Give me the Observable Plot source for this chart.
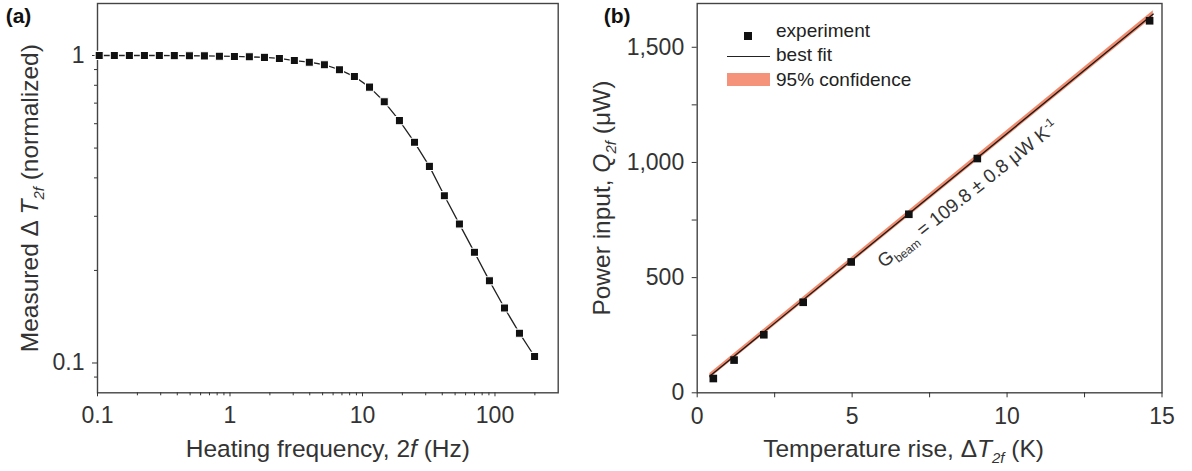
<!DOCTYPE html>
<html><head><meta charset="utf-8">
<script src="https://cdn.jsdelivr.net/npm/d3@7"></script>
<script src="https://cdn.jsdelivr.net/npm/@observablehq/plot@0.6"></script>
<style>
html,body{margin:0;padding:0;background:#fff;}
#wrap{position:relative;width:1192px;height:471px;overflow:hidden;font-family:"Liberation Sans",Arial,Helvetica,sans-serif;color:#333;}
#pa{position:absolute;left:0;top:0;}
#pb{position:absolute;left:566px;top:0;}
.lg{position:absolute;font-size:19px;line-height:19px;color:#222;white-space:nowrap;}
.sw{position:absolute;}
</style></head><body>
<div id="wrap">
  <div id="pa"></div>
  <div id="pb"></div>
  <div class="sw" style="left:744px;top:32px;width:8px;height:8px;background:#111;"></div>
  <div class="sw" style="left:727px;top:56px;width:43px;height:1.3px;background:#222;"></div>
  <div class="sw" style="left:727px;top:73px;width:43px;height:13px;background:#f5937a;"></div>
  <div class="lg" style="left:776px;top:21px;">experiment</div>
  <div class="lg" style="left:776px;top:45px;">best fit</div>
  <div class="lg" style="left:776px;top:70px;">95% confidence</div>
</div>
<script>
// ---------- Panel (a) data ----------
const freqHz = [0.103, 0.134, 0.174, 0.226, 0.293, 0.380, 0.494, 0.641, 0.832, 1.08,
                1.40, 1.82, 2.36, 3.06, 3.97, 5.16, 6.70, 8.69, 11.3, 14.6,
                19.0, 24.7, 32.0, 41.5, 53.9, 70.0, 90.8, 118, 153, 199];
const dTnorm = [1.000, 1.000, 1.000, 1.000, 1.000, 0.999, 0.998, 0.997, 0.995, 0.993,
                0.990, 0.986, 0.978, 0.963, 0.951, 0.933, 0.899, 0.854, 0.789, 0.707,
                0.614, 0.522, 0.436, 0.350, 0.283, 0.229, 0.185, 0.151, 0.125, 0.105];
const xTicksA = [0.1, 1, 10, 100];
const xTickLabelsA = ["0.1", "1", "10", "100"];
const xMinorA = [0.2,0.3,0.4,0.5,0.6,0.7,0.8,0.9, 2,3,4,5,6,7,8,9, 20,30,40,50,60,70,80,90, 200];
const yTicksA = [0.1, 1];
const yTickLabelsA = ["0.1", "1"];
const yMinorA = [0.09, 0.2,0.3,0.4,0.5,0.6,0.7,0.8,0.9];

// ---------- Panel (b) data ----------
const tempRiseK = [0.52, 1.19, 2.15, 3.42, 4.97, 6.83, 9.04, 14.6];
const powerUW   = [62, 142, 252, 393, 568, 775, 1017, 1615];
const fitT      = [0.41, 14.72];
const fitQ      = [73, 1644];
const confLow   = [62, 1630];
const confHigh  = [84, 1658];
const xTicksB = [0, 5, 10, 15];
const xTickLabelsB = ["0", "5", "10", "15"];
const xMinorB = [2.5, 7.5, 12.5];
const yTicksB = [0, 500, 1000, 1500];
const yTickLabelsB = ["0", "500", "1,000", "1,500"];
const yMinorB = [250, 750, 1250, 1750];
const annotation = [{T: 6.02, Q: 540, text: "Gbeam = 109.8 ± 0.8 μW K-1"}];

const FONT = '"Liberation Sans", Arial, Helvetica, sans-serif';

const titleYa = "Measured Δ T2f (normalized)";
const titleXa = "Heating frequency, 2f (Hz)";
const titleYb = "Power input, Q2f (μW)";
const titleXb = "Temperature rise, ΔT2f (K)";

function rich(svg, plain, parts) {
  d3.select(svg).selectAll("text").filter(function(){ return this.textContent === plain; }).each(function(){
    const t = d3.select(this);
    t.text(null);
    let shift = 0;
    parts.forEach(p => {
      const s = t.append("tspan").text(p.t);
      if (p.i) s.attr("font-style", "italic");
      if (p.fs) s.attr("font-size", p.fs);
      const target = p.sh || 0;
      if (target !== shift) { s.attr("dy", target - shift); shift = target; }
    });
  });
}

const idxA = d3.range(freqHz.length);
const plotA = Plot.plot({
  width: 566, height: 471,
  marginLeft: 97, marginRight: 8.3, marginTop: 3, marginBottom: 78.7,
  style: {fontFamily: FONT, fontSize: "23px", color: "#333", background: "transparent"},
  x: {type: "log", domain: [0.1, 300]},
  y: {type: "log", domain: [0.08, 1.476]},
  marks: [
    Plot.frame({stroke: "#444", strokeWidth: 1.4}),
    Plot.axisX(xMinorA, {anchor: "bottom", tickSize: 3, tickFormat: () => "", label: null}),
    Plot.axisX(xTicksA, {anchor: "bottom", tickSize: 4, tickPadding: 10, tickFormat: d => xTickLabelsA[xTicksA.indexOf(d)], label: null}),
    Plot.axisY(yMinorA, {anchor: "left", tickSize: 3, tickFormat: () => "", label: null}),
    Plot.axisY(yTicksA, {anchor: "left", tickSize: 5, tickPadding: 8, tickFormat: d => yTickLabelsA[yTicksA.indexOf(d)], label: null}),
    Plot.line(idxA, {x: i => freqHz[i], y: i => dTnorm[i], stroke: "#222", strokeWidth: 1.3}),
    Plot.dot(idxA, {x: i => freqHz[i], y: i => dTnorm[i], symbol: "square", r: 4.6, fill: "#111", stroke: "#fff", strokeWidth: 1.1}),
    Plot.text([titleXa], {text: d => d, frameAnchor: "bottom", dy: 56.5, fontSize: 24.5, fill: "#333", textAnchor: "middle", lineAnchor: "middle"}),
    Plot.text([titleYa], {text: d => d, frameAnchor: "left", dx: -67, rotate: -90, fontSize: 24.5, fill: "#333", textAnchor: "middle", lineAnchor: "middle"}),
    Plot.text(["(a)"], {text: d => d, frameAnchor: "top-left", dx: -79, dy: 13, fontSize: 21, fontWeight: "bold", fill: "#111", textAnchor: "middle", lineAnchor: "middle"})
  ]
});
rich(plotA, titleXa, [{t: "Heating frequency, 2"}, {t: "f", i: true}, {t: " (Hz)"}]);
rich(plotA, titleYa, [{t: "Measured Δ T"}, {t: "2f", i: true, fs: 15, sh: 6}, {t: " (normalized)"}]);
// italic T
d3.select(plotA).selectAll("tspan").filter(function(){ return this.textContent === "Measured Δ T"; }).each(function(){
  const s = d3.select(this); s.text("Measured Δ "); 
  d3.select(this.parentNode).insert("tspan", function(){ return s.node().nextSibling; }).attr("font-style", "italic").text("T");
});
document.getElementById("pa").appendChild(plotA);

const idxB = d3.range(tempRiseK.length);
const idxFit = d3.range(fitT.length);
const plotB = Plot.plot({
  width: 626, height: 471,
  marginLeft: 130.7, marginRight: 30.5, marginTop: 3, marginBottom: 78.7,
  style: {fontFamily: FONT, fontSize: "23px", color: "#333", background: "transparent"},
  x: {domain: [0, 15]},
  y: {domain: [0, 1690]},
  marks: [
    Plot.frame({stroke: "#444", strokeWidth: 1.4}),
    Plot.axisX(xMinorB, {anchor: "bottom", tickSize: 5, tickFormat: () => "", label: null}),
    Plot.axisX(xTicksB, {anchor: "bottom", tickSize: 5, tickPadding: 9.5, tickFormat: d => xTickLabelsB[xTicksB.indexOf(d)], label: null}),
    Plot.axisY(yMinorB.filter(v => v < 1690), {anchor: "left", tickSize: 5, tickFormat: () => "", label: null}),
    Plot.axisY(yTicksB, {anchor: "left", tickSize: 5, tickPadding: 8, tickFormat: d => yTickLabelsB[yTicksB.indexOf(d)], label: null}),
    Plot.areaY(idxFit, {x: i => fitT[i], y1: i => confLow[i], y2: i => confHigh[i], fill: "#f08a6c", fillOpacity: 1}),
    Plot.line(idxFit, {x: i => fitT[i], y: i => fitQ[i], stroke: "#1a1a1a", strokeWidth: 1.3}),
    Plot.dot(idxB, {x: i => tempRiseK[i], y: i => powerUW[i], symbol: "square", r: 4.3, fill: "#111"}),
    Plot.text(annotation, {x: "T", y: "Q", text: "text", rotate: -38.5, textAnchor: "start", lineAnchor: "bottom", fontSize: 19, fill: "#333"}),
    Plot.text([titleXb], {text: d => d, frameAnchor: "bottom", dx: -26, dy: 56.5, fontSize: 24.5, fill: "#333", textAnchor: "middle", lineAnchor: "middle"}),
    Plot.text([titleYb], {text: d => d, frameAnchor: "left", dx: -95, rotate: -90, fontSize: 24.5, fill: "#333", textAnchor: "middle", lineAnchor: "middle"}),
    Plot.text(["(b)"], {text: d => d, frameAnchor: "top-left", dx: -80, dy: 13, fontSize: 21, fontWeight: "bold", fill: "#111", textAnchor: "middle", lineAnchor: "middle"})
  ]
});
rich(plotB, titleXb, [{t: "Temperature rise, Δ"}, {t: "T", i: true}, {t: "2f", i: true, fs: 15, sh: 6}, {t: " (K)"}]);
rich(plotB, titleYb, [{t: "Power input, "}, {t: "Q", i: true}, {t: "2f", i: true, fs: 15, sh: 6}, {t: " (μW)"}]);
rich(plotB, annotation[0].text, [{t: "G"}, {t: "beam", fs: 12, sh: 5}, {t: " = 109.8 ± 0.8 μW K"}, {t: "-1", fs: 12, sh: -7}]);
document.getElementById("pb").appendChild(plotB);
</script>
</body></html>
